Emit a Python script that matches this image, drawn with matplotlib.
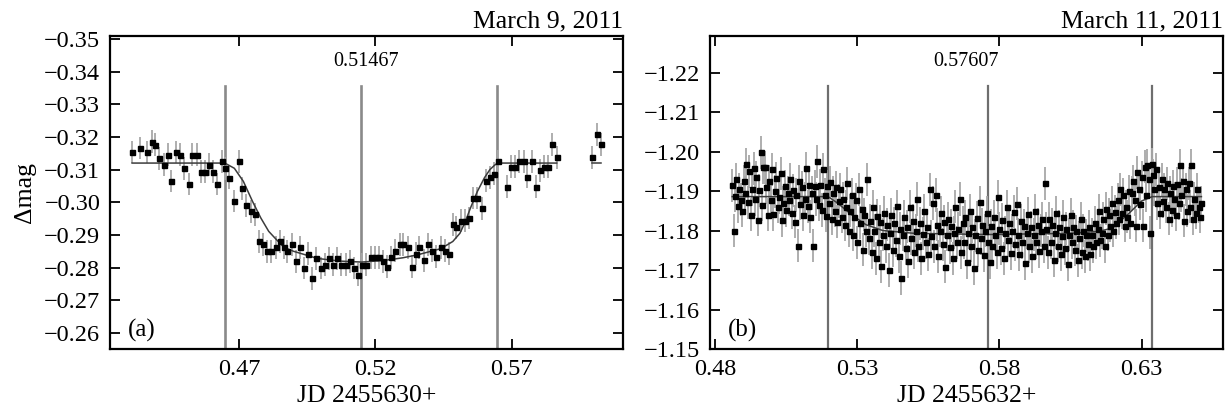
import matplotlib
matplotlib.use('Agg')
import matplotlib.pyplot as plt
from matplotlib.ticker import FixedLocator, FuncFormatter

plt.rcParams['font.family'] = ['Liberation Serif', 'DejaVu Serif']
plt.rcParams['font.size'] = 17.5

# ---- panel (a): March 9, 2011 ----
jd_a = [0.4308, 0.4336, 0.4364, 0.4380, 0.4392, 0.4408, 0.4424, 0.4440, 0.4452, 0.4469,
        0.4485, 0.4500, 0.4517, 0.4528, 0.4546, 0.4561, 0.4576, 0.4590, 0.4606, 0.4620,
        0.4638, 0.4648, 0.4665, 0.4682, 0.4699, 0.4710, 0.4726, 0.4743, 0.4759, 0.4774,
        0.4787, 0.4804, 0.4819, 0.4835, 0.4849, 0.4864, 0.4877, 0.4896, 0.4908, 0.4924,
        0.4940, 0.4954, 0.4968, 0.4984, 0.5000, 0.5015, 0.5031, 0.5045, 0.5059, 0.5075,
        0.5091, 0.5106, 0.5121, 0.5138, 0.5152, 0.5164, 0.5183, 0.5198, 0.5213, 0.5227,
        0.5242, 0.5256, 0.5273, 0.5289, 0.5303, 0.5318, 0.5335, 0.5350, 0.5361, 0.5377,
        0.5394, 0.5409, 0.5424, 0.5440, 0.5456, 0.5471, 0.5484, 0.5497, 0.5513, 0.5528,
        0.5545, 0.5559, 0.5574, 0.5590, 0.5606, 0.5620, 0.5635, 0.5651, 0.5683, 0.5697,
        0.5712, 0.5728, 0.5744, 0.5757, 0.5774, 0.5788, 0.5804, 0.5819, 0.5833, 0.5849,
        0.5865, 0.5995, 0.6011, 0.6027]
mag_a = [-0.3154, -0.3166, -0.3154, -0.3185, -0.3176, -0.3134, -0.3115, -0.3145, -0.3065, -0.3154,
         -0.3145, -0.3104, -0.3056, -0.3145, -0.3145, -0.3094, -0.3094, -0.3115, -0.3094, -0.3056,
         -0.3125, -0.3104, -0.3075, -0.3004, -0.3125, -0.3043, -0.2991, -0.2972, -0.2963, -0.2881,
         -0.2871, -0.2850, -0.2850, -0.2862, -0.2881, -0.2862, -0.2850, -0.2871, -0.2819, -0.2862,
         -0.2799, -0.2842, -0.2768, -0.2829, -0.2799, -0.2809, -0.2829, -0.2809, -0.2829, -0.2809,
         -0.2809, -0.2819, -0.2799, -0.2778, -0.2809, -0.2809, -0.2831, -0.2831, -0.2831, -0.2819,
         -0.2803, -0.2831, -0.2852, -0.2872, -0.2872, -0.2862, -0.2803, -0.2842, -0.2862, -0.2823,
         -0.2872, -0.2852, -0.2833, -0.2862, -0.2852, -0.2842, -0.2933, -0.2923, -0.2943, -0.2943,
         -0.2952, -0.3013, -0.3013, -0.2982, -0.3066, -0.3077, -0.3088, -0.3126, -0.3047, -0.3109,
         -0.3109, -0.3126, -0.3126, -0.3078, -0.3126, -0.3047, -0.3098, -0.3109, -0.3109, -0.3178,
         -0.3138, -0.3138, -0.3208, -0.3178]
err_a = 0.0035

# model light curve (two drawn pieces, the data have a gap)
model_a_t = [0.4308, 0.4648, 0.4683, 0.4716, 0.4750, 0.4780, 0.4809, 0.4838, 0.4865, 0.4900,
             0.4988, 0.5070, 0.5150, 0.5232, 0.5300, 0.5354, 0.5440, 0.5484, 0.5510, 0.5528,
             0.5550, 0.5574, 0.5600, 0.5620, 0.5638, 0.5648, 0.5865]
model_a_m = [-0.3120, -0.3120, -0.3104, -0.3064, -0.3002, -0.2952, -0.2911, -0.2885, -0.2862, -0.2850,
             -0.2828, -0.2820, -0.2817, -0.2822, -0.2830, -0.2839, -0.2858, -0.2880, -0.2905, -0.2937,
             -0.2985, -0.3033, -0.3075, -0.3100, -0.3114, -0.3120, -0.3120]
model_a2_t = [0.5995, 0.6027]
model_a2_m = [-0.3120, -0.3120]

contacts_a = [0.4647, 0.51467, 0.5647]
mid_a = 0.51467

# ---- panel (b): March 11, 2011 ----
jd_b = [
    0.4860, 0.4865, 0.4870, 0.4875, 0.4880, 0.4885, 0.4890, 0.4895, 0.4900, 0.4905,
    0.4910, 0.4915, 0.4920, 0.4925, 0.4930, 0.4935, 0.4940, 0.4945, 0.4950, 0.4955,
    0.4960, 0.4965, 0.4970, 0.4975, 0.4980, 0.4985, 0.4990, 0.4995, 0.5000, 0.5005,
    0.5010, 0.5015, 0.5020, 0.5025, 0.5030, 0.5035, 0.5040, 0.5045, 0.5050, 0.5055,
    0.5060, 0.5065, 0.5070, 0.5075, 0.5080, 0.5085, 0.5090, 0.5095, 0.5100, 0.5105,
    0.5110, 0.5115, 0.5120, 0.5125, 0.5130, 0.5135, 0.5140, 0.5145, 0.5150, 0.5155,
    0.5160, 0.5165, 0.5170, 0.5175, 0.5180, 0.5185, 0.5190, 0.5195, 0.5200, 0.5205,
    0.5210, 0.5215, 0.5220, 0.5225, 0.5230, 0.5235, 0.5240, 0.5245, 0.5250, 0.5255,
    0.5260, 0.5265, 0.5270, 0.5275, 0.5280, 0.5285, 0.5290, 0.5295, 0.5300, 0.5305,
    0.5310, 0.5315, 0.5320, 0.5325, 0.5330, 0.5335, 0.5340, 0.5345, 0.5350, 0.5355,
    0.5360, 0.5365, 0.5370, 0.5375, 0.5380, 0.5385, 0.5390, 0.5395, 0.5400, 0.5405,
    0.5410, 0.5415, 0.5420, 0.5425, 0.5430, 0.5435, 0.5440, 0.5445, 0.5450, 0.5455,
    0.5460, 0.5465, 0.5470, 0.5475, 0.5480, 0.5485, 0.5490, 0.5495, 0.5500, 0.5505,
    0.5510, 0.5515, 0.5520, 0.5525, 0.5530, 0.5535, 0.5540, 0.5545, 0.5550, 0.5555,
    0.5560, 0.5565, 0.5570, 0.5575, 0.5580, 0.5585, 0.5590, 0.5595, 0.5600, 0.5605,
    0.5610, 0.5615, 0.5620, 0.5625, 0.5630, 0.5635, 0.5640, 0.5645, 0.5650, 0.5655,
    0.5660, 0.5665, 0.5670, 0.5675, 0.5680, 0.5685, 0.5690, 0.5695, 0.5700, 0.5705,
    0.5710, 0.5715, 0.5720, 0.5725, 0.5730, 0.5735, 0.5740, 0.5745, 0.5750, 0.5755,
    0.5760, 0.5765, 0.5770, 0.5775, 0.5780, 0.5785, 0.5790, 0.5795, 0.5800, 0.5805,
    0.5810, 0.5815, 0.5820, 0.5825, 0.5830, 0.5835, 0.5840, 0.5845, 0.5850, 0.5855,
    0.5860, 0.5865, 0.5870, 0.5875, 0.5880, 0.5885, 0.5890, 0.5895, 0.5900, 0.5905,
    0.5910, 0.5915, 0.5920, 0.5925, 0.5930, 0.5935, 0.5940, 0.5945, 0.5950, 0.5955,
    0.5960, 0.5965, 0.5970, 0.5975, 0.5980, 0.5985, 0.5990, 0.5995, 0.6000, 0.6005,
    0.6010, 0.6015, 0.6020, 0.6025, 0.6030, 0.6035, 0.6040, 0.6045, 0.6050, 0.6055,
    0.6060, 0.6065, 0.6070, 0.6075, 0.6080, 0.6085, 0.6090, 0.6095, 0.6100, 0.6105,
    0.6110, 0.6115, 0.6120, 0.6125, 0.6130, 0.6135, 0.6140, 0.6145, 0.6150, 0.6155,
    0.6160, 0.6165, 0.6170, 0.6175, 0.6180, 0.6185, 0.6190, 0.6195, 0.6200, 0.6205,
    0.6210, 0.6215, 0.6220, 0.6225, 0.6230, 0.6235, 0.6240, 0.6245, 0.6250, 0.6255,
    0.6260, 0.6265, 0.6270, 0.6275, 0.6280, 0.6285, 0.6290, 0.6295, 0.6300, 0.6305,
    0.6310, 0.6315, 0.6320, 0.6325, 0.6330, 0.6335, 0.6340, 0.6345, 0.6350, 0.6355,
    0.6360, 0.6365, 0.6370, 0.6375, 0.6380, 0.6385, 0.6390, 0.6395, 0.6400, 0.6405,
    0.6410, 0.6415, 0.6420, 0.6425, 0.6430, 0.6435, 0.6440, 0.6445, 0.6450, 0.6455,
    0.6460, 0.6465, 0.6470, 0.6475, 0.6480, 0.6485, 0.6490, 0.6495, 0.6500, 0.6505,
    0.6510]
mag_b = [
    -1.1915, -1.1800, -1.1888, -1.1930, -1.1862, -1.1905, -1.1878, -1.1850, -1.1925, -1.1895,
    -1.1968, -1.1872, -1.1950, -1.1840, -1.1905, -1.1958, -1.1880, -1.1935, -1.1828, -1.1902,
    -1.1998, -1.1865, -1.1960, -1.1960, -1.1910, -1.1840, -1.1925, -1.1878, -1.1955, -1.1842,
    -1.1900, -1.1932, -1.1860, -1.1885, -1.1945, -1.1826, -1.1870, -1.1912, -1.1852, -1.1895,
    -1.1878, -1.1930, -1.1845, -1.1902, -1.1822, -1.1890, -1.1762, -1.1925, -1.1868, -1.1910,
    -1.1840, -1.1880, -1.1958, -1.1862, -1.1915, -1.1835, -1.1895, -1.1762, -1.1912, -1.1880,
    -1.1975, -1.1865, -1.1915, -1.1852, -1.1955, -1.1890, -1.1838, -1.1912, -1.1870, -1.1922,
    -1.1830, -1.1895, -1.1850, -1.1910, -1.1822, -1.1875, -1.1905, -1.1835, -1.1880, -1.1815,
    -1.1860, -1.1920, -1.1800, -1.1850, -1.1890, -1.1790, -1.1835, -1.1878, -1.1770, -1.1905,
    -1.1820, -1.1855, -1.1752, -1.1840, -1.1800, -1.1930, -1.1780, -1.1825, -1.1745, -1.1860,
    -1.1800, -1.1730, -1.1838, -1.1770, -1.1822, -1.1710, -1.1790, -1.1845, -1.1760, -1.1815,
    -1.1700, -1.1795, -1.1840, -1.1750, -1.1818, -1.1775, -1.1862, -1.1735, -1.1805, -1.1680,
    -1.1790, -1.1835, -1.1755, -1.1810, -1.1722, -1.1860, -1.1780, -1.1825, -1.1745, -1.1800,
    -1.1880, -1.1762, -1.1818, -1.1730, -1.1792, -1.1850, -1.1770, -1.1808, -1.1740, -1.1905,
    -1.1785, -1.1870, -1.1760, -1.1890, -1.1815, -1.1735, -1.1800, -1.1845, -1.1765, -1.1822,
    -1.1708, -1.1790, -1.1830, -1.1758, -1.1812, -1.1730, -1.1795, -1.1860, -1.1770, -1.1805,
    -1.1880, -1.1745, -1.1820, -1.1770, -1.1835, -1.1720, -1.1795, -1.1850, -1.1762, -1.1810,
    -1.1705, -1.1788, -1.1832, -1.1750, -1.1872, -1.1780, -1.1815, -1.1738, -1.1800, -1.1845,
    -1.1770, -1.1720, -1.1812, -1.1760, -1.1835, -1.1790, -1.1745, -1.1885, -1.1805, -1.1755,
    -1.1828, -1.1730, -1.1795, -1.1860, -1.1775, -1.1818, -1.1742, -1.1800, -1.1848, -1.1765,
    -1.1868, -1.1790, -1.1740, -1.1825, -1.1770, -1.1812, -1.1718, -1.1795, -1.1842, -1.1760,
    -1.1808, -1.1735, -1.1790, -1.1850, -1.1770, -1.1815, -1.1748, -1.1800, -1.1830, -1.1760,
    -1.1920, -1.1805, -1.1745, -1.1830, -1.1770, -1.1815, -1.1725, -1.1795, -1.1845, -1.1762,
    -1.1810, -1.1740, -1.1785, -1.1835, -1.1755, -1.1805, -1.1715, -1.1790, -1.1840, -1.1770,
    -1.1810, -1.1752, -1.1798, -1.1725, -1.1782, -1.1830, -1.1745, -1.1800, -1.1735, -1.1788,
    -1.1765, -1.1810, -1.1740, -1.1790, -1.1760, -1.1820, -1.1770, -1.1805, -1.1850, -1.1775,
    -1.1795, -1.1830, -1.1760, -1.1855, -1.1790, -1.1840, -1.1812, -1.1870, -1.1800, -1.1848,
    -1.1820, -1.1878, -1.1830, -1.1905, -1.1845, -1.1890, -1.1812, -1.1860, -1.1835, -1.1900,
    -1.1820, -1.1895, -1.1925, -1.1878, -1.1812, -1.1948, -1.1905, -1.1868, -1.1935, -1.1812,
    -1.1962, -1.1890, -1.1965, -1.1930, -1.1795, -1.1968, -1.1940, -1.1905, -1.1955, -1.1870,
    -1.1910, -1.1845, -1.1930, -1.1875, -1.1905, -1.1860, -1.1920, -1.1830, -1.1895, -1.1852,
    -1.1912, -1.1880, -1.1840, -1.1918, -1.1870, -1.1965, -1.1890, -1.1925, -1.1825, -1.1905,
    -1.1850, -1.1920, -1.1860, -1.1965, -1.1830, -1.1880, -1.1845, -1.1905, -1.1860, -1.1835,
    -1.1870]
err_b = 0.0042

model_b_t = [0.4860, 0.5197, 0.5230, 0.5280, 0.5330, 0.5390, 0.5500, 0.5762, 0.6050, 0.6150,
             0.6195, 0.6250, 0.6300, 0.6337, 0.6510]
model_b_m = [-1.1886, -1.1886, -1.1870, -1.1840, -1.1815, -1.1800, -1.1793, -1.1790, -1.1793, -1.1798,
             -1.1806, -1.1840, -1.1875, -1.1886, -1.1886]

contacts_b = [0.5197, 0.57607, 0.6337]
mid_b = 0.57607


def minus_fmt(v, pos):
    return f'{v:.2f}'.replace('-', '\u2212')


def light_curve(ax, t, m, err, model_pieces, contacts, mid, xticks, yticks, ylim, xlim,
                title, tag, vcol, vlw):
    n = min(len(t), len(m))
    t, m = t[:n], m[:n]
    ax.errorbar(t, m, yerr=err, fmt='none', ecolor='#a8a8a8', elinewidth=1.3, capsize=0, zorder=2)
    for mt, mm in model_pieces:
        ax.plot(mt, mm, color='#3c3c3c', lw=1.1, zorder=3)
    ax.plot(t, m, 's', ms=3.6, color='black', zorder=4)
    for c in contacts:
        ax.axvline(c, ymin=0, ymax=0.84, color=vcol, lw=vlw, zorder=1.5)

    ax.set_xlim(*xlim)
    ax.set_ylim(*ylim)
    ax.xaxis.set_major_locator(FixedLocator(xticks))
    ax.yaxis.set_major_locator(FixedLocator(yticks))
    ax.xaxis.set_major_formatter(FuncFormatter(minus_fmt))
    ax.yaxis.set_major_formatter(FuncFormatter(minus_fmt))
    ax.tick_params(direction='in', top=True, right=True, length=7, width=1.3, pad=7,
                   labelsize=17.5)
    for s in ax.spines.values():
        s.set_linewidth(1.6)

    ax.set_title(title, loc='right', pad=6, fontsize=18.5)
    ax.text(0.5, 0.92, f'{mid:.5f}', transform=ax.transAxes, ha='center', va='center',
            fontsize=14.5)
    ax.text(0.035, 0.022, tag, transform=ax.transAxes, ha='left', va='bottom', fontsize=18)


fig = plt.figure(figsize=(12.29, 4.11), dpi=100)
ax_a = fig.add_axes([0.0895, 0.1509, 0.4174, 0.7616])
ax_b = fig.add_axes([0.5777, 0.1509, 0.4172, 0.7616])

light_curve(ax_a, jd_a, mag_a, err_a,
            [(model_a_t, model_a_m), (model_a2_t, model_a2_m)],
            contacts_a, mid_a,
            [0.47, 0.52, 0.57],
            [-0.35, -0.34, -0.33, -0.32, -0.31, -0.30, -0.29, -0.28, -0.27, -0.26],
            (-0.2551, -0.3509), (0.4227, 0.6108),
            'March 9, 2011', '(a)', '#8a8a8a', 1.9)
ax_a.set_xlabel('JD 2455630+', fontsize=18.5, labelpad=4)
ax_a.set_ylabel('\u0394mag', fontsize=18.5, labelpad=6)

light_curve(ax_b, jd_b, mag_b, err_b,
            [(model_b_t, model_b_m)],
            contacts_b, mid_b,
            [0.48, 0.53, 0.58, 0.63],
            [-1.22, -1.21, -1.20, -1.19, -1.18, -1.17, -1.16, -1.15],
            (-1.15, -1.2293), (0.4782, 0.6585),
            'March 11, 2011', '(b)', '#6e6e6e', 1.6)
ax_b.set_xlabel('JD 2455632+', fontsize=18.5, labelpad=4)

fig.savefig('out.png', dpi=100)
